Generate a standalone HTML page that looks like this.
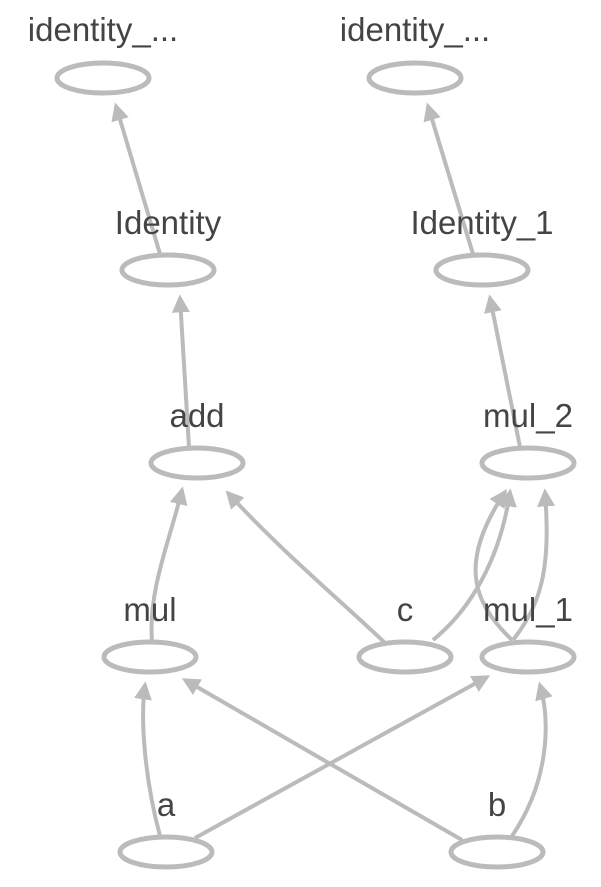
<!DOCTYPE html><html><head><style>body{margin:0;background:#fff}svg{display:block}text{font-family:"Liberation Sans",sans-serif;font-size:33px;fill:#444;text-anchor:middle}</style></head><body>
<svg width="601" height="887" viewBox="0 0 601 887">
<defs><marker id="m" viewBox="0 0 10 10" refX="8" refY="5" markerWidth="4.5" markerHeight="4.5" orient="auto"><path d="M0,0L10,5L0,10z" fill="#bbb"/></marker></defs>
<g fill="none" stroke="#bbb" stroke-width="4">
<path d="M160,254L116,106" marker-end="url(#m)"/>
<path d="M473,254L428,106" marker-end="url(#m)"/>
<path d="M189,447L180,298" marker-end="url(#m)"/>
<path d="M520,447L490,298" marker-end="url(#m)"/>
<path d="M152,641C148,590 170,540 182,490" marker-end="url(#m)"/>
<path d="M384,642C340,600 280,550 228,493" marker-end="url(#m)"/>
<path d="M433,640C470,610 500,560 510,492" marker-end="url(#m)"/>
<path d="M512,640C470,600 460,560 505,492" marker-end="url(#m)"/>
<path d="M513,640C545,600 550,560 545,492" marker-end="url(#m)"/>
<path d="M160,836C145,780 140,720 145,685" marker-end="url(#m)"/>
<path d="M195,838L487,677" marker-end="url(#m)"/>
<path d="M462,840L185,680" marker-end="url(#m)"/>
<path d="M512,836C550,780 550,720 540,685" marker-end="url(#m)"/>
</g>
<g fill="none" stroke="#bbb" stroke-width="5">
<ellipse cx="103" cy="78" rx="46" ry="15"/>
<ellipse cx="415" cy="78" rx="46" ry="15"/>
<ellipse cx="168" cy="270" rx="46" ry="15"/>
<ellipse cx="482" cy="270" rx="46" ry="15"/>
<ellipse cx="197" cy="463" rx="46" ry="15"/>
<ellipse cx="528" cy="463" rx="46" ry="15"/>
<ellipse cx="150" cy="657" rx="46" ry="15"/>
<ellipse cx="405" cy="657" rx="46" ry="15"/>
<ellipse cx="528" cy="657" rx="46" ry="15"/>
<ellipse cx="166" cy="852" rx="46" ry="15"/>
<ellipse cx="497" cy="852" rx="46" ry="15"/>
</g>
<text x="103" y="41">identity_...</text>
<text x="415" y="41">identity_...</text>
<text x="168" y="234">Identity</text>
<text x="482" y="234">Identity_1</text>
<text x="197" y="427">add</text>
<text x="528" y="427">mul_2</text>
<text x="150" y="621">mul</text>
<text x="405" y="621">c</text>
<text x="528" y="621">mul_1</text>
<text x="166" y="816">a</text>
<text x="497" y="816">b</text>
</svg></body></html>
